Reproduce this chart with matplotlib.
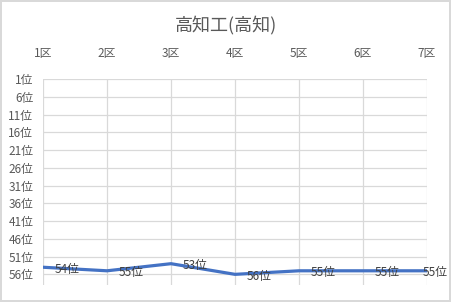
import matplotlib
matplotlib.use("Agg")
import matplotlib.pyplot as plt

plt.rcParams['font.family'] = ['Noto Sans CJK JP', 'DejaVu Sans']

categories = ['1区', '2区', '3区', '4区', '5区', '6区', '7区']
ranks = [54, 55, 53, 56, 55, 55, 55]
rank_ticks = [1, 6, 11, 16, 21, 26, 31, 36, 41, 46, 51, 56]
title = '高知工(高知)'

fig = plt.figure(figsize=(4.51, 3.02), dpi=100)
fig.patch.set_edgecolor('#d9d9d9')
fig.patch.set_linewidth(1.5)
ax = fig.add_axes([43 / 451, 1 - 285 / 302, 384 / 451, 206 / 302])

x = list(range(len(categories)))
ax.plot(x, ranks, color='#4472c4', linewidth=2.3, zorder=3)

for i, r in enumerate(ranks):
    dx = 12 if i < len(ranks) - 1 else -4
    ax.annotate(f'{r}位', (i, r), xytext=(dx, -2), textcoords='offset pixels',
                ha='left', va='center', fontsize=8.5, color='#404040', zorder=4)

ax.set_xlim(0, len(categories) - 1)
ax.set_ylim(59, 1)
ax.set_xticks(x)
ax.set_xticklabels(categories)
ax.set_yticks(rank_ticks)
ax.set_yticklabels([f'{t}位' for t in rank_ticks])
ax.xaxis.tick_top()
ax.tick_params(axis='both', length=0, labelsize=8.5, colors='#595959')
ax.tick_params(axis='x', pad=14)
ax.tick_params(axis='y', pad=7)
ax.grid(True, color='#d9d9d9', linewidth=0.9)
for s in ax.spines.values():
    s.set_visible(False)

fig.text(0.5, 1 - 25 / 302, title, ha='center', va='center', fontsize=13, color='#595959')

fig.savefig('out.png', dpi=100)
